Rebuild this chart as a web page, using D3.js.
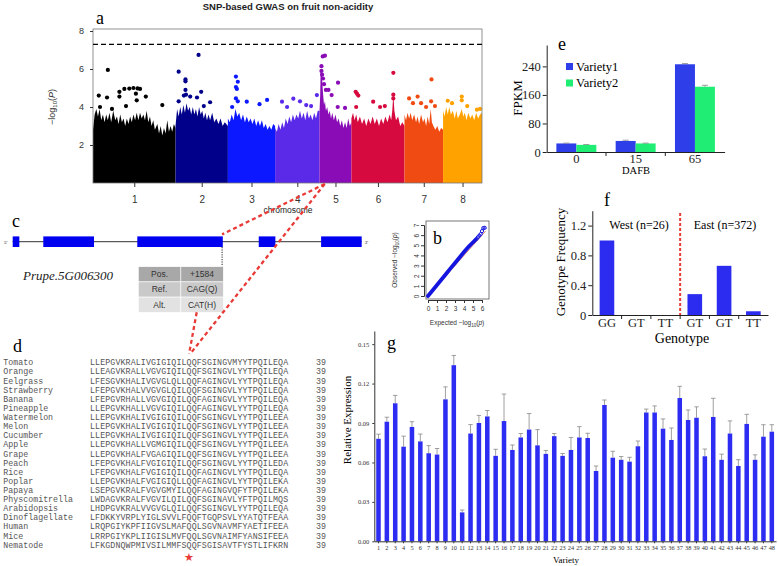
<!DOCTYPE html>
<html><head><meta charset="utf-8">
<script src="https://cdn.jsdelivr.net/npm/d3@7"></script>
<style>body{margin:0;background:#fff;} svg{display:block;}</style>
</head><body>
<svg id="fig" width="778" height="566"></svg>
<script>
// ================= DATA =================
// --- a: Manhattan plot ---
const chromosomes = ["1","2","3","4","5","6","7","8"];
const chromLengthsMb = [47.9,30.4,27.4,25.8,18.5,30.8,22.4,22.6];
const chromColors = ["#000000","#00008b","#0c18ff","#5a2ae8","#8a0cb6","#d60a3e","#ef4b12","#ffa200"];
const gwasThreshold = 7.3;
const manhattanYTicks = [2,4,6,8];
// upper edge of the dense SNP cloud: [fraction along chromosome, -log10 P]
const snpCloudTop = [
  [[0,2.8],[0.02,3.6],[0.04,3.9],[0.06,3.5],[0.08,3.9],[0.1,3.3],[0.12,3.6],[0.14,3.2],[0.16,3.6],[0.18,3.3],[0.2,3.7],[0.22,3.2],[0.245,3.8],[0.27,3.3],[0.29,3.5],[0.31,3.1],[0.33,3.6],[0.35,3.2],[0.37,3.4],[0.39,3.0],[0.41,3.4],[0.43,3.1],[0.45,3.5],[0.47,3.2],[0.49,3.6],[0.51,3.3],[0.53,3.7],[0.55,3.3],[0.57,3.7],[0.59,3.4],[0.61,3.6],[0.63,3.3],[0.65,3.8],[0.67,3.2],[0.69,3.5],[0.71,3.0],[0.73,3.3],[0.75,2.8],[0.78,3.1],[0.8,2.6],[0.82,3.0],[0.84,2.5],[0.86,2.9],[0.88,2.6],[0.9,3.3],[0.92,2.7],[0.94,3.0],[0.96,2.7],[0.98,3.1],[1,2.9]],
  [[0,3.0],[0.03,3.9],[0.06,3.5],[0.09,4.0],[0.12,3.6],[0.15,4.1],[0.18,3.7],[0.21,4.2],[0.24,3.8],[0.27,4.0],[0.3,3.6],[0.33,4.0],[0.36,3.6],[0.39,3.9],[0.42,3.5],[0.45,4.0],[0.48,3.6],[0.51,3.8],[0.54,3.4],[0.57,3.7],[0.6,3.3],[0.63,3.6],[0.66,3.3],[0.7,3.7],[0.74,3.2],[0.78,3.4],[0.82,3.1],[0.86,3.4],[0.9,3.0],[0.94,3.2],[1,3.0]],
  [[0,3.4],[0.04,3.2],[0.08,3.6],[0.12,3.3],[0.16,3.9],[0.2,3.5],[0.24,3.7],[0.28,3.3],[0.32,3.6],[0.36,3.2],[0.4,3.5],[0.44,3.2],[0.48,3.4],[0.52,3.1],[0.56,3.4],[0.6,3.0],[0.64,3.3],[0.68,3.0],[0.72,3.3],[0.76,2.9],[0.8,3.1],[0.84,2.8],[0.88,3.0],[0.92,2.8],[0.96,3.1],[1,3.0]],
  [[0,2.9],[0.04,2.7],[0.08,3.1],[0.12,2.8],[0.16,3.2],[0.2,2.9],[0.24,3.4],[0.28,3.1],[0.32,3.5],[0.36,3.2],[0.4,3.6],[0.44,3.3],[0.48,3.6],[0.52,3.4],[0.56,3.8],[0.6,3.4],[0.64,3.7],[0.68,3.3],[0.72,3.8],[0.76,3.4],[0.8,3.6],[0.84,3.3],[0.88,3.7],[0.92,3.4],[0.96,3.8],[1,3.8]],
  [[0,3.8],[0.02,4.6],[0.035,5.9],[0.07,5.9],[0.09,5.2],[0.11,4.7],[0.14,4.1],[0.17,4.3],[0.2,3.8],[0.24,4.0],[0.28,3.6],[0.32,3.8],[0.36,3.4],[0.4,3.7],[0.45,3.3],[0.5,3.6],[0.55,3.2],[0.6,3.4],[0.65,3.0],[0.7,3.3],[0.75,2.9],[0.8,3.2],[0.85,2.9],[0.9,3.4],[0.95,3.0],[1,3.2]],
  [[0,3.4],[0.03,3.7],[0.06,3.3],[0.09,3.6],[0.12,3.2],[0.16,3.5],[0.2,3.1],[0.24,3.4],[0.28,3.0],[0.32,3.4],[0.36,3.1],[0.4,3.5],[0.44,3.1],[0.48,3.4],[0.52,3.0],[0.56,3.4],[0.6,3.1],[0.64,3.5],[0.68,3.2],[0.72,3.6],[0.75,3.3],[0.77,3.8],[0.79,4.7],[0.81,3.8],[0.84,3.3],[0.88,3.5],[0.92,3.0],[0.96,3.2],[1,3.0]],
  [[0,3.6],[0.04,3.3],[0.08,3.7],[0.12,3.4],[0.16,3.7],[0.2,3.3],[0.25,3.6],[0.3,3.2],[0.34,3.5],[0.38,3.1],[0.43,3.6],[0.48,3.2],[0.52,3.4],[0.56,3.0],[0.6,3.5],[0.64,3.1],[0.68,3.9],[0.71,3.2],[0.75,3.0],[0.8,2.8],[0.85,3.0],[0.9,2.7],[0.95,2.9],[1,2.8]],
  [[0,3.8],[0.04,3.5],[0.08,4.0],[0.12,3.6],[0.16,4.0],[0.2,3.6],[0.25,3.8],[0.3,3.4],[0.34,3.8],[0.38,3.4],[0.43,3.6],[0.48,3.9],[0.52,3.5],[0.56,3.7],[0.6,3.3],[0.65,3.7],[0.7,3.4],[0.75,3.6],[0.8,3.3],[0.85,3.7],[0.9,3.4],[0.95,3.6],[1,3.7]]
];
// prominent SNPs above the cloud: [chromosome index, fraction along chromosome, -log10 P]
const topSnps = [
  [0,0.18,5.95],[0,0.07,4.6],[0,0.17,4.5],[0,0.085,4.0],[0,0.32,4.8],[0,0.32,4.55],[0,0.38,4.95],[0,0.44,4.97],[0,0.49,5.0],[0,0.54,4.98],[0,0.57,4.95],[0,0.52,4.7],[0,0.64,4.55],[0,0.53,4.35],[0,0.84,4.1],[0,0.40,4.05],[0,0.23,3.9],
  [1,0.06,5.86],[1,0.44,6.74],[1,0.19,5.45],[1,0.19,5.35],[1,0.19,4.9],[1,0.16,4.6],[1,0.49,4.8],[1,0.06,4.3],[1,0.28,4.55],[1,0.41,4.5],[1,0.66,4.25],[1,0.54,4.05],[1,0.2,4.65],
  [2,0.17,5.6],[2,0.21,5.33],[2,0.17,5.05],[2,0.19,4.95],[2,0.17,4.45],[2,0.21,4.3],[2,0.40,4.28],[2,0.67,4.15],[2,0.83,4.37],[2,0.09,4.0],
  [3,0.155,4.28],[3,0.41,4.44],[3,0.94,4.63],[3,0.27,4.0],[3,0.56,4.3],[3,0.70,4.1],[3,0.81,4.05],
  [4,0.10,6.66],[4,0.17,6.7],[4,0.06,6.15],[4,0.06,5.9],[4,0.08,5.7],[4,0.58,5.28],[4,0.28,4.9],[4,0.38,4.63],[4,0.57,4.0],[4,0.80,3.95],[4,0.11,5.5],[4,0.14,5.2],[4,0.2,4.9],
  [5,0.08,4.8],[5,0.105,4.7],[5,0.13,4.6],[5,0.79,5.8],[5,0.79,4.65],[5,0.79,4.45],[5,0.41,4.28],[5,0.54,4.0],[5,0.09,4.0],[5,0.63,4.05],
  [6,0.70,5.45],[6,0.12,4.45],[6,0.34,4.55],[6,0.22,4.2],[6,0.43,4.2],[6,0.69,4.3],[6,0.56,4.0],[6,0.79,4.05],
  [7,0.12,4.33],[7,0.48,4.55],[7,0.48,4.35],[7,0.87,3.86],[7,0.23,4.2],[7,0.62,4.05],[7,0.95,3.9]
];

// --- b: QQ plot ---
const qqExpected = [0,0.25,0.5,0.75,1,1.5,2,2.5,3,3.5,4,4.5,5,5.3];
const qqObserved = [0,0.27,0.54,0.81,1.08,1.62,2.17,2.72,3.26,3.8,4.33,4.85,5.3,5.55];
const qqTailExpected = [5.4,5.55,5.7,5.85,6.0,6.15,6.3];
const qqTailObserved = [5.65,5.8,5.95,6.1,6.4,6.7,6.72];
const qqTicksX = [0,1,2,3,4,5,6];
const qqTicksY = [0,1,2,3,4,5,6,7];

// --- c: gene model ---
const geneName = "Prupe.5G006300";
const geneLengthBp = 3000;
const exonStartBp = [0,263,1071,2115,2651];
const exonEndBp = [57,699,1806,2258,3000];
const variantExon = 2;
const tableKeys = ["Pos.","Ref.","Alt."];
const tableValues = ["+1584","CAG(Q)","CAT(H)"];

// --- d: alignment ---
const species = ["Tomato","Orange","Eelgrass","Strawberry","Banana","Pineapple","Watermelon","Melon","Cucumber","Apple","Grape","Peach","Rice","Poplar","Papaya","Physcomitrella","Arabidopsis","Dinoflagellate","Human","Mice","Nematode"];
const sequences = [
  "LLEPGVKRALIVGIGIQILQQFSGINGVMYYTPQILEQA",
  "LLEAGVKRALLVGVGIQILQQFSGINGVLYYTPQILEQA",
  "LFESGVKHALIVGVGLQLLQQFAGINGVLYYTPQILEQA",
  "LFEPGVKHALVVGVGLQILQQFSGINGVLYYTPQILEQA",
  "LFEPGVRHALLVGVGIQILQQFAGINGVLYYTPQILEQA",
  "LLEPGVKHALLVGVGIQILQQFAGINGVLYYTPQILEQA",
  "LLEPGVKHALIVGIGIQILQQFSGINGVLYYTPQILEEA",
  "LLEPGVKHALIVGIGIQILQQFSGINGVLYYTPQILEEA",
  "LLEPGVKHALIVGIGIQILQQFSGINGVLYYTPQILEEA",
  "LLEPGVKHALLVGMGIQILQQFSGINGVLYYTPQILEEA",
  "LLEPGVKHALFVGAGIQILQQFSGINGVLYYTPQILEEA",
  "LFEPGVKHALFVGIGIQILQQFSGINGVLYYTPQILEDA",
  "LFEPGVKHALFVGIGIQILQQFAGINGVLYYTPQILEQA",
  "LLEPGVKHALFVGIGIQLLQQFAGINGVLYYTPQILEKA",
  "LSEPGVKRALFVGVGMYILQQFAGINGVQFYTPQILEKA",
  "LWDAGVKRALFVGVILQILQQFSGINAVLYFTPQILMQS",
  "LHDPGVKRALVVGVGLQILQQFSGINGVLYYTPQILEQA",
  "LFDKKYVRPLYIGLSVVLFQQFTGQPSVLYYATQTFEAA",
  "LRQPGIYKPFIIGVSLMAFQQLSGVNAVMFYAETIFEEA",
  "LRRPGIYKPLIIGISLMVFQQLSGVNAIMFYANSIFEEA",
  "LFKGDNQWPMIVSILMMFSQQFSGISAVTFYSTLIFKRN"
];
const seqEndLabel = "39";
const markedColumn = 19;

// --- e: FPKM ---
const dafb = ["0","15","65"];
const fpkmVariety1 = [24,31,246];
const fpkmVariety2 = [20,24,183];
const fpkmErr1 = [1,2,2];
const fpkmErr2 = [1,1,4];
const fpkmTicks = [0,80,160,240];
const seriesNames = ["Variety1","Variety2"];

// --- f: genotype frequency ---
const genotypeLabels = ["GG","GT","TT","GT","GT","TT"];
const genotypeFreq = [1.0,0,0,0.28,0.66,0.05];
const freqTicks = [0,0.4,0.8,1.2];
const groupLabels = ["West (n=26)","East (n=372)"];

// --- g: relative expression ---
const varieties = ["1","2","3","4","5","6","7","8","9","10","11","12","13","14","15","16","17","18","19","20","21","22","23","24","25","26","27","28","29","30","31","32","33","34","35","36","37","38","39","40","41","42","43","44","45","46","47","48"];
const relExpr = [0.078,0.091,0.105,0.072,0.087,0.076,0.067,0.066,0.108,0.134,0.022,0.082,0.090,0.095,0.065,0.0915,0.0695,0.079,0.085,0.073,0.0665,0.080,0.065,0.0695,0.079,0.0786,0.0535,0.1037,0.0636,0.062,0.0606,0.0723,0.098,0.098,0.0857,0.0771,0.109,0.0923,0.094,0.0647,0.0946,0.062,0.082,0.0573,0.0893,0.062,0.0796,0.0834];
const relExprSd = [0.0035,0.0034,0.006,0.008,0.004,0.0056,0.0058,0.0046,0.0095,0.0074,0.0018,0.0068,0.0058,0.0045,0.005,0.0205,0.0038,0.003,0.0122,0.012,0.0026,0.002,0.0018,0.0095,0.0082,0.0036,0.0038,0.0038,0.0049,0.0025,0.0033,0.004,0.0026,0.005,0.0074,0.0091,0.0089,0.0076,0.0083,0.0055,0.0142,0.0043,0.0096,0.0048,0.0073,0.0038,0.0091,0.0053];
const relTicks = [0,0.03,0.06,0.09,0.12,0.15];

// ================= DRAWING =================
const svg = d3.select("#fig");
svg.append("rect").attr("width",778).attr("height",566).attr("fill","#fff");
const serif = "'Liberation Serif','Times New Roman',serif";
const sans = "'Liberation Sans',Arial,sans-serif";
const mono = "'Liberation Mono','Courier New',monospace";
const RED = "#e83a36";

function styleAxis(g, font, size, color) {
  g.selectAll("text").attr("font-family", font).attr("font-size", size).attr("fill", color || "#222");
  g.selectAll("line,path").attr("stroke", color || "#222");
}

// ---------- a ----------
const cumStart = []; let acc = 0;
chromLengthsMb.forEach(l => { cumStart.push(acc); acc += l; });
const mx = d3.scaleLinear([0, acc], [93, 482]);
const my = d3.scaleLinear([0, 8], [183, 31]);
const gA = svg.append("g");
chromosomes.forEach((c, i) => {
  const pts = snpCloudTop[i].map(([f, v]) => [cumStart[i] + f * chromLengthsMb[i], v]);
  gA.append("path").datum(pts)
    .attr("d", d3.area().x(d => mx(d[0])).y0(my(0)).y1(d => my(d[1])))
    .attr("fill", chromColors[i]);
});
gA.selectAll("circle.snp").data(topSnps).join("circle")
  .attr("cx", d => mx(cumStart[d[0]] + d[1] * chromLengthsMb[d[0]]))
  .attr("cy", d => my(d[2])).attr("r", 2.1)
  .attr("fill", d => chromColors[d[0]]);
gA.append("rect").attr("x", mx(0)).attr("y", 29).attr("width", mx(acc) - mx(0)).attr("height", my(0) - 29)
  .attr("fill", "none").attr("stroke", "#777").attr("stroke-width", 0.8);
gA.append("line").attr("x1", mx(0)).attr("x2", mx(acc)).attr("y1", my(gwasThreshold)).attr("y2", my(gwasThreshold))
  .attr("stroke", "#000").attr("stroke-width", 1.3).attr("stroke-dasharray", "5,3");
const ayA = gA.append("g").attr("transform", `translate(${mx(0)},0)`)
  .call(d3.axisLeft(my).tickValues(manhattanYTicks).tickSize(3).tickPadding(6));
ayA.select(".domain").remove();
styleAxis(ayA, sans, 9, "#333");
const axA = gA.append("g").attr("transform", `translate(0,${my(0)})`)
  .call(d3.axisBottom(mx).tickValues(chromLengthsMb.map((l, i) => cumStart[i] + l / 2)).tickFormat((d, i) => chromosomes[i]).tickSize(4).tickPadding(9));
axA.select(".domain").remove();
styleAxis(axA, sans, 10, "#333");
svg.append("text").attr("x", 288).attr("y", 10).attr("text-anchor", "middle")
  .attr("font-family", sans).attr("font-size", 9.5).attr("font-weight", "bold").attr("fill", "#222")
  .text("SNP-based GWAS on fruit non-acidity");
svg.append("text").attr("x", 288).attr("y", 213).attr("text-anchor", "middle")
  .attr("font-family", sans).attr("font-size", 8.5).attr("fill", "#222").text("chromosome");
const yl = svg.append("text").attr("transform", "translate(55,107) rotate(-90)").attr("text-anchor", "middle")
  .attr("font-family", sans).attr("font-size", 9).attr("fill", "#333");
yl.append("tspan").text("\u2212log");
yl.append("tspan").attr("font-size", 6).attr("dy", 2).text("10");
yl.append("tspan").attr("dy", -2).text("(");
yl.append("tspan").attr("font-style", "italic").text("P");
yl.append("tspan").text(")");
svg.append("text").attr("x", 96).attr("y", 24).attr("font-family", serif).attr("font-size", 18).text("a");

// ---------- b ----------
const qx = d3.scaleLinear([0, 6], [428, 482]);
const qy = d3.scaleLinear([0, 7], [296, 225]);
const gB = svg.append("g");
gB.append("rect").attr("x", 426).attr("y", 221).attr("width", 63).attr("height", 78)
  .attr("fill", "none").attr("stroke", "#555").attr("stroke-width", 0.8);
gB.append("line").attr("x1", qx(0)).attr("y1", qy(0)).attr("x2", qx(6.4)).attr("y2", qy(6.4))
  .attr("stroke", "#e07060").attr("stroke-width", 0.9);
gB.append("path").datum(qqExpected.map((e, i) => [e, qqObserved[i]]))
  .attr("d", d3.line().x(d => qx(d[0])).y(d => qy(d[1])))
  .attr("fill", "none").attr("stroke", "#1515e0").attr("stroke-width", 3.8).attr("stroke-linecap", "round");
gB.selectAll("circle.qq").data(qqTailExpected).join("circle")
  .attr("cx", d => qx(d)).attr("cy", (d, i) => qy(qqTailObserved[i])).attr("r", 1.6)
  .attr("fill", "none").attr("stroke", "#1515e0").attr("stroke-width", 1);
const axB = gB.append("g").attr("transform", "translate(0,300)")
  .call(d3.axisBottom(qx).tickValues(qqTicksX).tickFormat(d3.format("d")).tickSize(3).tickPadding(3));
styleAxis(axB, sans, 6.5, "#333");
const ayB = gB.append("g").attr("transform", "translate(424,0)")
  .call(d3.axisLeft(qy).tickValues(qqTicksY).tickFormat(d3.format("d")).tickSize(3).tickPadding(2));
styleAxis(ayB, sans, 6.5, "#333");
ayB.selectAll("text").attr("text-anchor", "middle").attr("transform", "rotate(-90)")
  .attr("x", 0).attr("y", -5).attr("dy", "0");
const xlB = svg.append("text").attr("x", 457).attr("y", 325).attr("text-anchor", "middle")
  .attr("font-family", sans).attr("font-size", 6.5).attr("fill", "#333");
xlB.append("tspan").text("Expected  \u2212log");
xlB.append("tspan").attr("font-size", 4.5).attr("dy", 1.5).text("10");
xlB.append("tspan").attr("dy", -1.5).text("(");
xlB.append("tspan").attr("font-style", "italic").text("p");
xlB.append("tspan").text(")");
const ylB = svg.append("text").attr("transform", "translate(397,260) rotate(-90)").attr("text-anchor", "middle")
  .attr("font-family", sans).attr("font-size", 6.5).attr("fill", "#333");
ylB.append("tspan").text("Observed  \u2212log");
ylB.append("tspan").attr("font-size", 4.5).attr("dy", 1.5).text("10");
ylB.append("tspan").attr("dy", -1.5).text("(");
ylB.append("tspan").attr("font-style", "italic").text("p");
ylB.append("tspan").text(")");
svg.append("text").attr("x", 433).attr("y", 244).attr("font-family", serif).attr("font-size", 18).text("b");

// ---------- c ----------
const gx = d3.scaleLinear([0, geneLengthBp], [12.7, 361.7]);
const gC = svg.append("g");
const lineY = 241.7, exH = 10.6;
gC.append("line").attr("x1", gx(0)).attr("x2", gx(geneLengthBp)).attr("y1", lineY).attr("y2", lineY)
  .attr("stroke", "#333").attr("stroke-width", 1);
gC.selectAll("rect.exon").data(exonStartBp).join("rect")
  .attr("x", d => gx(d)).attr("width", (d, i) => gx(exonEndBp[i]) - gx(d))
  .attr("y", lineY - exH / 2).attr("height", exH).attr("fill", "#0000f0");
gC.append("text").attr("x", 4).attr("y", lineY + 2).attr("font-family", serif).attr("font-size", 5).text("5'");
gC.append("text").attr("x", gx(geneLengthBp) + 3).attr("y", lineY + 2).attr("font-family", serif).attr("font-size", 5).text("3'");
const varX = gx(exonEndBp[variantExon]) - 0.7;
const tblX = 138.3, tblY = 266.7, colW = [42.4, 42.6], rowH = 15.2;
gC.append("line").attr("x1", varX).attr("x2", varX).attr("y1", lineY + exH / 2).attr("y2", tblY)
  .attr("stroke", "#222").attr("stroke-width", 1).attr("stroke-dasharray", "1.2,1.2");
const rowFill = ["#a8a8a8", "#c9c9c9", "#e2e2e2"];
tableKeys.forEach((k, i) => {
  gC.append("rect").attr("x", tblX).attr("y", tblY + i * rowH).attr("width", colW[0] + colW[1]).attr("height", rowH)
    .attr("fill", rowFill[i]).attr("stroke", "#fff").attr("stroke-width", 0.6);
  gC.append("line").attr("x1", tblX + colW[0]).attr("x2", tblX + colW[0]).attr("y1", tblY + i * rowH).attr("y2", tblY + (i + 1) * rowH)
    .attr("stroke", "#fff").attr("stroke-width", 0.8);
  gC.append("text").attr("x", tblX + colW[0] / 2).attr("y", tblY + i * rowH + 10.5).attr("text-anchor", "middle")
    .attr("font-family", sans).attr("font-size", 8.5).attr("fill", "#333").text(k);
  gC.append("text").attr("x", tblX + colW[0] + colW[1] / 2).attr("y", tblY + i * rowH + 10.5).attr("text-anchor", "middle")
    .attr("font-family", sans).attr("font-size", 8.5).attr("fill", "#333").text(tableValues[i]);
});
gC.append("text").attr("x", 23).attr("y", 280).attr("font-family", serif).attr("font-style", "italic")
  .attr("font-size", 13).attr("fill", "#222").text(geneName);
svg.append("text").attr("x", 12).attr("y", 227).attr("font-family", serif).attr("font-size", 18).text("c");

// ---------- d ----------
const gD = svg.append("g");
const rowY = d3.scalePoint(species, [362.3, 544.7]);
const charW = 5.08, seqX = 90;
species.forEach((s, i) => {
  gD.append("text").attr("x", 3.3).attr("y", rowY(s) + 3).attr("font-family", mono).attr("font-size", 8.3)
    .attr("fill", "#555").text(s);
  gD.append("text").attr("x", seqX).attr("y", rowY(s) + 3).attr("font-family", mono).attr("font-size", 8.3)
    .attr("fill", "#555").attr("textLength", charW * sequences[i].length).attr("lengthAdjust", "spacing").text(sequences[i]);
  gD.append("text").attr("x", 316).attr("y", rowY(s) + 3).attr("font-family", mono).attr("font-size", 8.3)
    .attr("fill", "#555").text(seqEndLabel);
});
const starX = seqX + (markedColumn + 0.5) * charW;
gD.append("text").attr("x", starX).attr("y", 561).attr("text-anchor", "middle").attr("font-family", "'DejaVu Sans',sans-serif")
  .attr("font-size", 11).attr("fill", RED).text("\u2605");
svg.append("text").attr("x", 13).attr("y", 352).attr("font-family", serif).attr("font-size", 18).text("d");

// ---------- connectors ----------
const peakX = mx(cumStart[4] + 0.1 * chromLengthsMb[4]) + 2;
const peakY = my(0) + 1;
const conn = svg.append("g").attr("stroke", RED).attr("stroke-width", 2.3).attr("stroke-dasharray", "4,3").attr("fill", "none");
conn.append("line").attr("x1", peakX).attr("y1", peakY).attr("x2", varX).attr("y2", lineY - exH / 2 - 2);
conn.append("line").attr("x1", peakX).attr("y1", peakY).attr("x2", starX + 1).attr("y2", 354);
conn.append("line").attr("x1", tblX + colW[0] + 16).attr("y1", tblY + 3 * rowH).attr("x2", starX).attr("y2", 354);

// ---------- e ----------
const ex0 = d3.scaleBand(dafb, [546.7, 724.6]).paddingInner(0.326).paddingOuter(0.163);
const ex1 = d3.scaleBand([0, 1], [0, ex0.bandwidth()]);
const ey = d3.scaleLinear([0, 300], [152, 45]);
const eCol = ["#2e3ee8", "#20ee74"];
const gE = svg.append("g");
[fpkmVariety1, fpkmVariety2].forEach((ser, s) => {
  const err = s === 0 ? fpkmErr1 : fpkmErr2;
  ser.forEach((v, i) => {
    const x = ex0(dafb[i]) + ex1(s);
    gE.append("rect").attr("x", x).attr("width", ex1.bandwidth()).attr("y", ey(v)).attr("height", ey(0) - ey(v)).attr("fill", eCol[s]);
    const cx = x + ex1.bandwidth() / 2;
    gE.append("line").attr("x1", cx).attr("x2", cx).attr("y1", ey(v)).attr("y2", ey(v + err[i])).attr("stroke", "#888").attr("stroke-width", 0.8);
    gE.append("line").attr("x1", cx - 3).attr("x2", cx + 3).attr("y1", ey(v + err[i])).attr("y2", ey(v + err[i])).attr("stroke", "#888").attr("stroke-width", 0.8);
  });
});
const ayE = gE.append("g").attr("transform", "translate(546.7,0)")
  .call(d3.axisLeft(ey).tickValues(fpkmTicks).tickSize(4).tickPadding(2).tickSizeOuter(0));
styleAxis(ayE, serif, 12.5, "#222");
const axE = gE.append("g").attr("transform", `translate(0,${ey(0)})`)
  .call(d3.axisBottom(ex0).tickSize(0).tickPadding(2).tickSizeOuter(0));
styleAxis(axE, serif, 12.5, "#222");
gE.selectAll("line.sep").data(dafb.slice(1)).join("line")
  .attr("x1", d => ex0(d) - ex0.step() * 0.163).attr("x2", d => ex0(d) - ex0.step() * 0.163)
  .attr("y1", ey(0)).attr("y2", ey(0) + 4).attr("stroke", "#222");
svg.append("text").attr("x", 636).attr("y", 174).attr("text-anchor", "middle").attr("font-family", serif).attr("font-size", 10.5).text("DAFB");
svg.append("text").attr("transform", "translate(522,98) rotate(-90)").attr("text-anchor", "middle")
  .attr("font-family", serif).attr("font-size", 13).text("FPKM");
seriesNames.forEach((n, s) => {
  gE.append("rect").attr("x", 566).attr("y", 63 + s * 16.5).attr("width", 7).attr("height", 7).attr("fill", eCol[s]);
  gE.append("text").attr("x", 576).attr("y", 70.5 + s * 16.5).attr("font-family", serif).attr("font-size", 12.5).text(n);
});
svg.append("text").attr("x", 558).attr("y", 50).attr("font-family", serif).attr("font-size", 18).text("e");

// ---------- f ----------
const fx = d3.scaleBand(d3.range(genotypeLabels.length), [592.3, 768]).paddingInner(0.5).paddingOuter(0.25);
const fy = d3.scaleLinear([0, 1.4], [315, 210.7]);
const gF = svg.append("g");
gF.selectAll("rect").data(genotypeFreq).join("rect")
  .attr("x", (d, i) => fx(i)).attr("width", fx.bandwidth())
  .attr("y", d => fy(d)).attr("height", d => fy(0) - fy(d)).attr("fill", "#2c2cf0");
const ayF = gF.append("g").attr("transform", "translate(592.3,0)")
  .call(d3.axisLeft(fy).tickValues(freqTicks).tickFormat(d => d === 0 ? "0" : d.toFixed(1)).tickSize(4).tickPadding(2).tickSizeOuter(0));
styleAxis(ayF, serif, 12.5, "#222");
const axF = gF.append("g").attr("transform", `translate(0,${fy(0)})`)
  .call(d3.axisBottom(fx).tickFormat(i => genotypeLabels[i]).tickSize(0).tickPadding(3).tickSizeOuter(0));
styleAxis(axF, serif, 12.5, "#222");
gF.selectAll("line.sep").data(d3.range(1, genotypeLabels.length)).join("line")
  .attr("x1", i => fx(i) - fx.step() * 0.25).attr("x2", i => fx(i) - fx.step() * 0.25)
  .attr("y1", fy(0)).attr("y2", fy(0) + 4).attr("stroke", "#222");
const divX = fx(3) - fx.step() * 0.25;
gF.append("line").attr("x1", divX).attr("x2", divX).attr("y1", 213).attr("y2", fy(0))
  .attr("stroke", RED).attr("stroke-width", 2).attr("stroke-dasharray", "3,2");
gF.append("text").attr("x", 639).attr("y", 229).attr("text-anchor", "middle").attr("font-family", serif).attr("font-size", 12).text(groupLabels[0]);
gF.append("text").attr("x", 725).attr("y", 229).attr("text-anchor", "middle").attr("font-family", serif).attr("font-size", 12).text(groupLabels[1]);
svg.append("text").attr("x", 682).attr("y", 343).attr("text-anchor", "middle").attr("font-family", serif).attr("font-size", 14).text("Genotype");
svg.append("text").attr("transform", "translate(565,262) rotate(-90)").attr("text-anchor", "middle")
  .attr("font-family", serif).attr("font-size", 13).text("Genotype Frequency");
svg.append("text").attr("x", 604).attr("y", 206).attr("font-family", serif).attr("font-size", 18).text("f");

// ---------- g ----------
const vx = d3.scaleBand(varieties, [374.3, 776]).paddingInner(0.46).paddingOuter(0.23);
const vy = d3.scaleLinear([0, 0.16], [541.3, 331]);
const gG = svg.append("g");
gG.selectAll("rect").data(relExpr).join("rect")
  .attr("x", (d, i) => vx(varieties[i])).attr("width", vx.bandwidth())
  .attr("y", d => vy(d)).attr("height", d => vy(0) - vy(d)).attr("fill", "#2c2cf2");
relExpr.forEach((v, i) => {
  const cx = vx(varieties[i]) + vx.bandwidth() / 2;
  const top = vy(v + relExprSd[i]);
  gG.append("line").attr("x1", cx).attr("x2", cx).attr("y1", vy(v)).attr("y2", top).attr("stroke", "#888").attr("stroke-width", 0.8);
  gG.append("line").attr("x1", cx - 2.2).attr("x2", cx + 2.2).attr("y1", top).attr("y2", top).attr("stroke", "#888").attr("stroke-width", 0.8);
});
const ayG = gG.append("g").attr("transform", "translate(374.3,0)")
  .call(d3.axisLeft(vy).tickValues(relTicks).tickFormat(d3.format(".2f")).tickSize(2).tickPadding(3).tickSizeOuter(0));
styleAxis(ayG, serif, 6.5, "#333");
const axG = gG.append("g").attr("transform", `translate(0,${vy(0)})`)
  .call(d3.axisBottom(vx).tickSize(2).tickPadding(2).tickSizeOuter(0));
styleAxis(axG, serif, 6.3, "#333");
svg.append("text").attr("x", 566).attr("y", 563).attr("text-anchor", "middle").attr("font-family", serif).attr("font-size", 9).text("Variety");
svg.append("text").attr("transform", "translate(351,420) rotate(-90)").attr("text-anchor", "middle")
  .attr("font-family", serif).attr("font-size", 11).text("Relative Expression");
svg.append("text").attr("x", 387).attr("y", 349).attr("font-family", serif).attr("font-size", 18).text("g");
</script>
</body></html>
